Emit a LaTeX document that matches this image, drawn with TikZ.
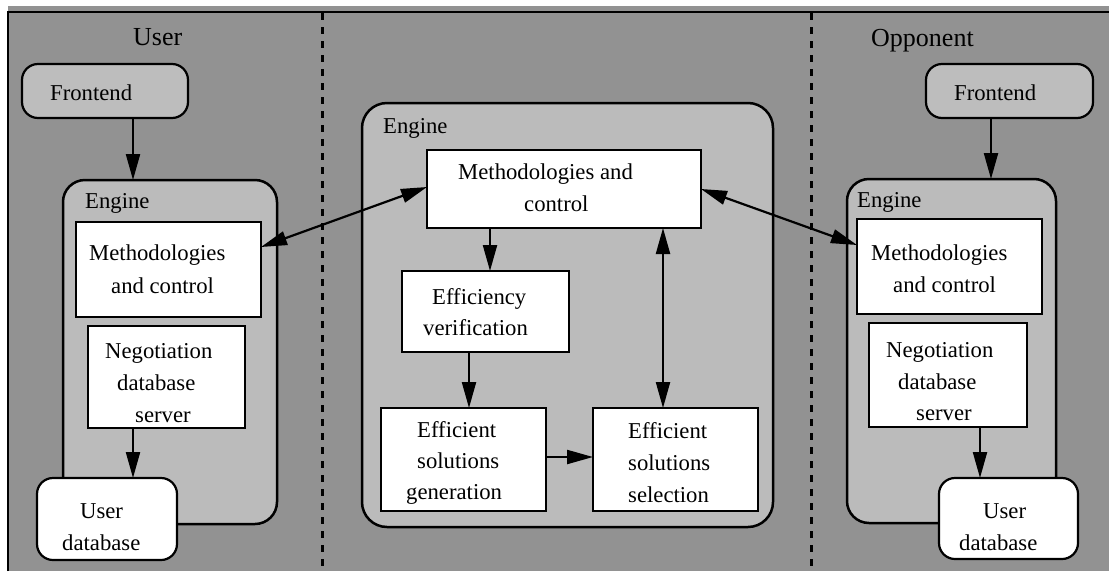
\documentclass[tikz,border=0pt]{standalone}
\usepackage{fontspec}
\setmainfont{Liberation Serif}
\usetikzlibrary{arrows.meta,calc}
\definecolor{bgdither}{HTML}{929292}
\definecolor{panel}{HTML}{BBBBBB}
\definecolor{front}{HTML}{BDBDBD}

% box from its two corners: name, style, x1, y1, x2, y2
\newcommand{\blk}[6]{%
  \node[#2, minimum width={#5-#3}, minimum height={#6-#4}] (#1) at ({(#3+#5)/2},{(#4+#6)/2}) {};}

\tikzset{
  base box/.style={draw=black, line width=2.2pt, inner sep=0pt, outer sep=0pt},
  plain/.style={base box, fill=white},
  engine/.style={base box, line width=2.5pt, fill=panel, rounded corners=22pt},
  frontend/.style={base box, fill=front, rounded corners=16pt},
  store/.style={base box, fill=white, rounded corners=16pt},
  lbl/.style={anchor=base west, inner sep=0pt, font=\fontsize{22.7}{28}\selectfont},
  title/.style={anchor=base west, inner sep=0pt, font=\fontsize{26}{30}\selectfont},
  tip/.tip={Triangle[length=26pt,width=14pt]},
  arr/.style={line width=2.2pt, -tip},
  dbl/.style={line width=2.2pt, tip-tip},
  divider/.style={line width=3pt, dash pattern=on 7pt off 7pt}
}

\begin{document}
\begin{tikzpicture}[x=1pt, y=-1pt]
\useasboundingbox (0,0) rectangle (1109,571);
\fill[white] (0,0) rectangle (1109,571);
\fill[bgdither] (8,6) rectangle (1109,571);
\draw[line width=2pt] (8,571) -- (8,12) -- (1109,12);

% column dividers
\coordinate (d1t) at (322,13);
\coordinate (d1b) at (322,571);
\coordinate (d2t) at (811,13);
\coordinate (d2b) at (811,571);
\draw[divider] (d1t) -- (d1b);
\draw[divider] (d2t) -- (d2b);

% column titles
\node[title] (tuser) at (133,45) {User};
\node[title] (topp) at (871,46) {Opponent};

% ---------- left column ----------
\blk{fe1}{frontend}{22}{64}{188}{118}
\node[lbl] (fe1t) at (50,100) {Frontend};
\blk{eng1}{engine}{63}{180}{277}{524}
\node[lbl] (eng1t) at (85,208) {Engine};
\blk{mc1}{plain}{76}{222}{261}{317}
\node[lbl] (mc1a) at (89,260) {Methodologies};
\node[lbl] (mc1b) at (111,293) {and control};
\blk{neg1}{plain}{88}{326}{245}{428}
\node[lbl] (neg1a) at (105,358) {Negotiation};
\node[lbl] (neg1b) at (117,390) {database};
\node[lbl] (neg1c) at (135,422) {server};
\blk{udb1}{store}{37}{478}{177}{560}
\node[lbl] (udb1a) at (80,518) {User};
\node[lbl] (udb1b) at (62,550) {database};

\draw[arr] (133,0 |- fe1.south) -- (133,0 |- eng1.north);
\draw[arr] (133,0 |- neg1.south) -- (133,0 |- udb1.north);

% ---------- centre column ----------
\blk{eng2}{engine, rounded corners=25pt}{362}{103}{773}{527}
\node[lbl] (eng2t) at (383,133) {Engine};
\blk{mc2}{plain}{427}{150}{701}{228}
\node[lbl] (mc2a) at (458,179) {Methodologies and};
\node[lbl] (mc2b) at (524,211) {control};
\blk{ev}{plain}{402}{271}{569}{352}
\node[lbl] (eva) at (432,304) {Efficiency};
\node[lbl] (evb) at (423,335) {verification};
\blk{esg}{plain}{381}{408}{546}{511}
\node[lbl] (esga) at (417,437) {Efficient};
\node[lbl] (esgb) at (417,468) {solutions};
\node[lbl] (esgc) at (406,499) {generation};
\blk{ess}{plain}{593}{408}{758}{511}
\node[lbl] (essa) at (628,438) {Efficient};
\node[lbl] (essb) at (628,470) {solutions};
\node[lbl] (essc) at (628,502) {selection};

\draw[arr] (490,0 |- mc2.south) -- (490,0 |- ev.north);
\draw[arr] (469,0 |- ev.south) -- (469,0 |- esg.north);
\draw[arr] (esg.east |- 0,457) -- (ess.west |- 0,457);
\draw[dbl] (663,0 |- mc2.south) -- (663,0 |- ess.north);

% ---------- right column ----------
\blk{fe2}{frontend}{926}{64}{1093}{118}
\node[lbl] (fe2t) at (954,100) {Frontend};
\blk{eng3}{engine}{847}{179}{1056}{523}
\node[lbl] (eng3t) at (857,207) {Engine};
\blk{mc3}{plain}{857}{219}{1042}{314}
\node[lbl] (mc3a) at (871,260) {Methodologies};
\node[lbl] (mc3b) at (893,292) {and control};
\blk{neg3}{plain}{869}{323}{1027}{427}
\node[lbl] (neg3a) at (886,357) {Negotiation};
\node[lbl] (neg3b) at (898,389) {database};
\node[lbl] (neg3c) at (916,420) {server};
\blk{udb3}{store}{939}{478}{1078}{559}
\node[lbl] (udb3a) at (983,518) {User};
\node[lbl] (udb3b) at (959,550) {database};

\draw[arr] (991,0 |- fe2.south) -- (991,0 |- eng3.north);
\draw[arr] (980,0 |- neg3.south) -- (980,0 |- udb3.north);

% ---------- links between engines ----------
\draw[dbl] (mc1.east |- 0,247) -- (mc2.west |- 0,187);
\draw[dbl] (mc2.east |- 0,189) -- (mc3.west |- 0,245);
\end{tikzpicture}
\end{document}
